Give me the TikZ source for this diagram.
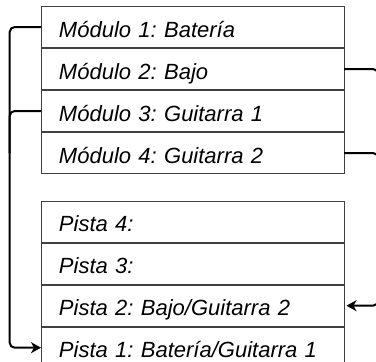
\documentclass[tikz,border=0pt]{standalone}
\usepackage{fontspec}
\setmainfont{Liberation Sans}
\usetikzlibrary{matrix,positioning,arrows.meta}
\pgfkeys{tikz/myrows/.style={matrix of nodes,inner sep=0pt,outer sep=0pt,row sep=0pt,column sep=0pt,nodes={draw=black!75,line width=0.8pt,outer sep=0pt,minimum height=41.2pt,text width=267pt,align=left,inner xsep=18pt,inner ysep=0pt,text height=20pt,text depth=0pt,font=\itshape\fontsize{22}{26}\selectfont}}}
\pgfkeys{tikz/mylink/.style={draw,line width=2pt,rounded corners=5pt}}
\pgfkeys{tikz/mytip/.style={-{Stealth[length=10pt,width=11pt,inset=3pt]}}}

\begin{document}
\frenchspacing
\begin{tikzpicture}
\useasboundingbox (0,0) rectangle (376pt,-362pt);
\clip (0,0) rectangle (376pt,-362pt);

    \matrix [myrows,anchor=north] (m) at (192.5pt,-6pt)
    {
    Módulo 1: Batería \\
    Módulo 2: Bajo \\
    Módulo 3: Guitarra 1 \\
    Módulo 4: Guitarra 2 \\
    };

    \matrix [myrows,anchor=north] (p) at (192.5pt,-200.7pt)
    {
    Pista 4: \\
    Pista 3: \\
    Pista 2: Bajo/Guitarra 2 \\
    Pista 1: Batería/Guitarra 1 \\
    };

% links
\coordinate (L) at (9.7pt,0);
\coordinate (R) at (378pt,0);

\draw [mylink,mytip] (m-1-1.west) -| (L |- p-4-1.west) -- (p-4-1.west);
\draw [mylink] (m-3-1.west) -| (L |- m-4-1.west);

\draw [mylink,mytip,shorten >=2.5pt] (m-2-1.east) -| (R |- p-3-1.east) -- (p-3-1.east);
\draw [mylink] (m-4-1.east) -| (R |- p-2-1.east);

\end{tikzpicture}
\end{document}
